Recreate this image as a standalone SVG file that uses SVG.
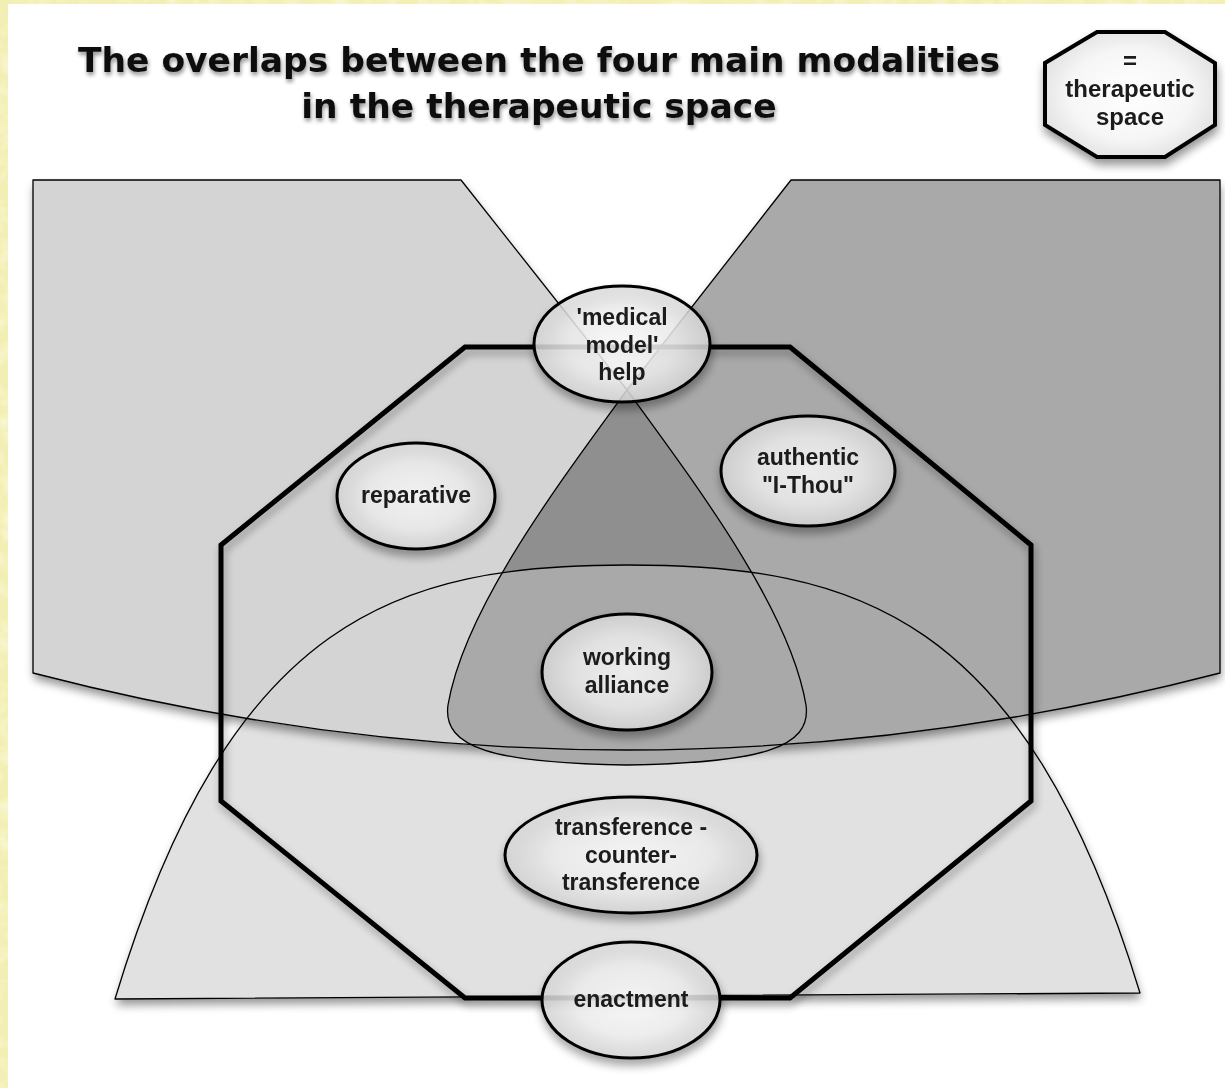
<svg xmlns="http://www.w3.org/2000/svg" width="1225" height="1088" viewBox="0 0 1225 1088">
  <style>
    .edge { fill: none; stroke: #000; stroke-width: 1.3; stroke-linejoin: round; }
    .bubble { fill: url(#bubbleFill); fill-opacity: 0.8; stroke: #000; stroke-width: 3; }
    .label { font-family: "Liberation Sans", Arial, sans-serif; font-weight: bold; font-size: 23px; fill: #1a1a1a; text-anchor: middle; }
    .title { font-family: "DejaVu Sans", Verdana, sans-serif; font-weight: bold; font-size: 34.5px; fill: #111; text-anchor: middle; }
  </style>
  <defs>
    <filter id="paper" x="0" y="0" width="100%" height="100%">
      <feTurbulence type="fractalNoise" baseFrequency="0.06" numOctaves="3" seed="4" result="noise"/>
      <feColorMatrix in="noise" type="matrix"
        values="0 0 0 0 1
                0 0 0 0 1
                0 0 0 0 0.85
                0 0 0 1.1 -0.45"/>
      <feComposite in2="SourceGraphic" operator="in"/>
    </filter>
    <filter id="dropShadow" x="-10%" y="-10%" width="120%" height="125%">
      <feGaussianBlur in="SourceAlpha" stdDeviation="5"/>
      <feOffset dx="1" dy="6"/>
      <feComponentTransfer><feFuncA type="linear" slope="0.42"/></feComponentTransfer>
      <feMerge><feMergeNode/><feMergeNode in="SourceGraphic"/></feMerge>
    </filter>
    <filter id="lineShadow" x="-10%" y="-10%" width="120%" height="125%">
      <feGaussianBlur in="SourceAlpha" stdDeviation="4"/>
      <feOffset dx="2" dy="5"/>
      <feComponentTransfer><feFuncA type="linear" slope="0.35"/></feComponentTransfer>
      <feMerge><feMergeNode/><feMergeNode in="SourceGraphic"/></feMerge>
    </filter>
    <filter id="textShadow" x="-5%" y="-30%" width="110%" height="170%">
      <feGaussianBlur in="SourceAlpha" stdDeviation="2.2"/>
      <feOffset dx="1" dy="3"/>
      <feComponentTransfer><feFuncA type="linear" slope="0.45"/></feComponentTransfer>
      <feMerge><feMergeNode/><feMergeNode in="SourceGraphic"/></feMerge>
    </filter>
    <radialGradient id="bubbleFill" cx="50%" cy="50%" r="55%">
      <stop offset="0" stop-color="#ffffff"/>
      <stop offset="0.55" stop-color="#f3f3f3"/>
      <stop offset="1" stop-color="#d2d2d2"/>
    </radialGradient>
    <radialGradient id="legendFill" cx="50%" cy="50%" r="60%">
      <stop offset="0" stop-color="#ffffff"/>
      <stop offset="0.6" stop-color="#f6f6f6"/>
      <stop offset="1" stop-color="#dcdcdc"/>
    </radialGradient>
    <path id="domePath" d="M115,999 C231,615 400,565 627,565 C854,565 1024,612 1140,993 Z"/>
    <path id="upperPath" d="M33,180 L461,180 L627,390 L791,180 L1220,180 L1220,673 Q626,827 33,673 Z"/>
    <path id="trianglePath" d="M627,390 C700,490 790,610 806,705 C812,748 760,763 627,765 C494,763 442,748 448,705 C464,610 554,490 627,390 Z"/>
    <clipPath id="leftHalf"><rect x="0" y="0" width="627" height="1088"/></clipPath>
    <clipPath id="rightHalf"><rect x="627" y="0" width="600" height="1088"/></clipPath>
    <clipPath id="insideDome"><use href="#domePath"/></clipPath>
  </defs>

  <!-- page: parchment border and white sheet -->
  <rect x="0" y="0" width="1225" height="1088" fill="#f2efb4"/>
  <rect x="0" y="0" width="1225" height="1088" fill="#f2efb4" filter="url(#paper)"/>
  <rect x="8" y="4" width="1217" height="1084" fill="#ffffff"/>

  <!-- modality regions -->
  <g id="regions">
    <g id="transference-region" filter="url(#dropShadow)">
      <use href="#domePath" fill="#e1e1e1"/>
    </g>
    <g id="reparative-iThou-regions" filter="url(#dropShadow)">
      <use href="#upperPath" fill="#d4d4d4" clip-path="url(#leftHalf)"/>
      <use href="#upperPath" fill="#a9a9a9" clip-path="url(#rightHalf)"/>
    </g>
    <g id="working-alliance-region">
      <use href="#trianglePath" fill="#8f8f8f"/>
      <use href="#trianglePath" fill="#a9a9a9" clip-path="url(#insideDome)"/>
    </g>
  </g>

  <!-- outlines of the regions -->
  <g id="connectors">
    <use href="#domePath" class="edge"/>
    <path class="edge" d="M627,390 L461,180 L33,180 L33,673 Q626,827 1220,673 L1220,180 L791,180 L627,390"/>
    <use href="#trianglePath" class="edge"/>
    <polygon id="therapeutic-space" points="465,347 790,347 1031,545 1031,801 790,998 465,998 221,801 221,545"
             fill="none" stroke="#000" stroke-width="5" stroke-linejoin="miter" filter="url(#lineShadow)"/>
  </g>

  <!-- relationship nodes -->
  <g id="node-medical" filter="url(#dropShadow)">
    <ellipse class="bubble" cx="622" cy="344" rx="88" ry="58"/>
    <text class="label" x="622" y="325">'medical</text>
    <text class="label" x="622" y="353">model'</text>
    <text class="label" x="622" y="380">help</text>
  </g>
  <g id="node-reparative" filter="url(#dropShadow)">
    <ellipse class="bubble" cx="416" cy="496" rx="79" ry="53"/>
    <text class="label" x="416" y="503">reparative</text>
  </g>
  <g id="node-authentic" filter="url(#dropShadow)">
    <ellipse class="bubble" cx="808" cy="471" rx="87" ry="55"/>
    <text class="label" x="808" y="465">authentic</text>
    <text class="label" x="808" y="493">"I-Thou"</text>
  </g>
  <g id="node-working" filter="url(#dropShadow)">
    <ellipse class="bubble" cx="627" cy="672" rx="85" ry="58"/>
    <text class="label" x="627" y="665">working</text>
    <text class="label" x="627" y="693">alliance</text>
  </g>
  <g id="node-transference" filter="url(#dropShadow)">
    <ellipse class="bubble" cx="631" cy="855" rx="126" ry="58"/>
    <text class="label" x="631" y="835">transference -</text>
    <text class="label" x="631" y="863">counter-</text>
    <text class="label" x="631" y="890">transference</text>
  </g>
  <g id="node-enactment" filter="url(#dropShadow)">
    <ellipse class="bubble" cx="631" cy="1000" rx="89" ry="58"/>
    <text class="label" x="631" y="1007">enactment</text>
  </g>

  <!-- key -->
  <g id="legend" filter="url(#dropShadow)">
    <polygon points="1097,32 1165,32 1215,63 1215,125 1165,157 1097,157 1045,125 1045,63"
             fill="url(#legendFill)" stroke="#000" stroke-width="4"/>
    <text class="label" x="1130" y="69" style="font-size:24px">=</text>
    <text class="label" x="1130" y="97" style="font-size:24px">therapeutic</text>
    <text class="label" x="1130" y="125" style="font-size:24px">space</text>
  </g>

  <!-- heading -->
  <g id="title" filter="url(#textShadow)">
    <text class="title" x="539" y="72">The overlaps between the four main modalities</text>
    <text class="title" x="539" y="118">in the therapeutic space</text>
  </g>
</svg>
